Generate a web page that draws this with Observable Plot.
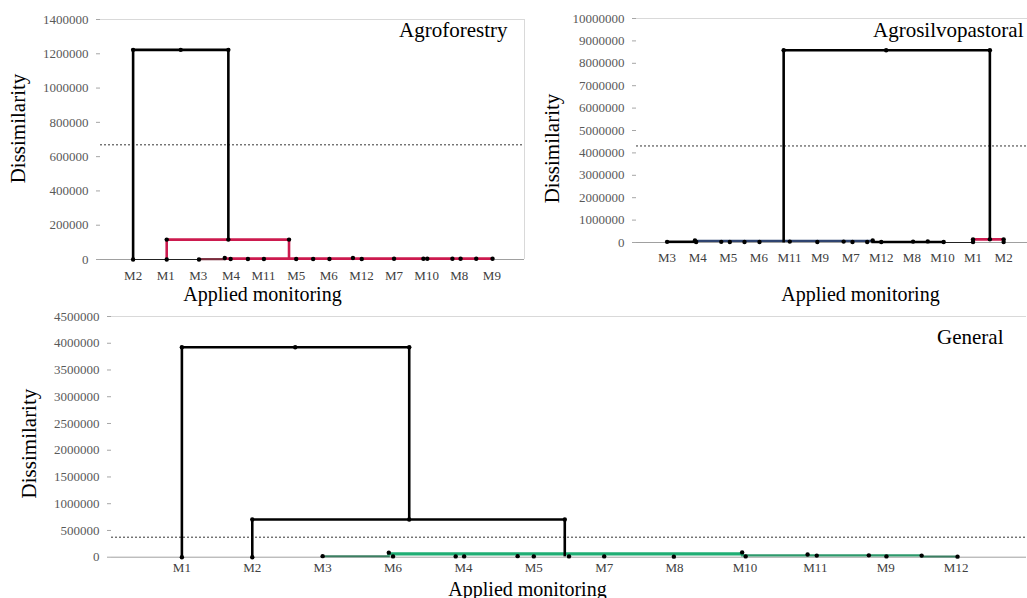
<!DOCTYPE html>
<html>
<head>
<meta charset="utf-8">
<script src="https://cdn.jsdelivr.net/npm/d3@7"></script>
<script src="https://cdn.jsdelivr.net/npm/@observablehq/plot@0.6"></script>
<style>
  body { margin: 0; background: #fff; }
  #chart { position: relative; width: 1027px; height: 598px; overflow: hidden; }
  #chart > svg { position: absolute; overflow: visible; }
</style>
</head>
<body>
<div id="chart"></div>
<script>
// ---------- Agroforestry ----------
const agroCategories = ["M2", "M1", "M3", "M4", "M11", "M5", "M6", "M12", "M7", "M10", "M8", "M9"];
const agroTicks = [0, 200000, 400000, 600000, 800000, 1000000, 1200000, 1400000];
const agroCutoff = 669000;
// [x1, height1, x2, height2, cluster] — x in leaf-order units
const agroLinks = [
  [1, 0, 1, 1223000, "outer"],
  [1, 1223000, 3.92, 1223000, "outer"],
  [3.92, 1223000, 3.92, 116000, "outer"],
  [1, 0, 3.02, 0, "base"],
  [2.03, 0, 2.03, 116000, "c1"],
  [2.03, 116000, 5.78, 116000, "c1"],
  [5.78, 116000, 5.78, 5000, "c1"],
  [3.02, 2000, 3.81, 2000, "c2"],
  [3.81, 5000, 12.02, 5000, "c1"]
];
const agroNodes = [
  [1, 0], [1, 1223000], [2.46, 1223000], [3.92, 1223000], [3.92, 116000],
  [2.03, 116000], [2.03, 0], [5.78, 116000], [3.02, 0], [3.81, 9000],
  [3.99, 3000], [4.52, 3000], [5.01, 3000], [6.0, 3000], [6.52, 3000],
  [7.02, 3000], [7.74, 9000], [8.01, 3000], [9.0, 4000], [9.9, 4000],
  [10.02, 4000], [10.79, 4000], [11.04, 4000], [11.52, 4000], [12.02, 4000]
];

// ---------- Agrosilvopastoral ----------
const silvoCategories = ["M3", "M4", "M5", "M6", "M11", "M9", "M7", "M12", "M8", "M10", "M1", "M2"];
const silvoTicks = [0, 1000000, 2000000, 3000000, 4000000, 5000000, 6000000, 7000000, 8000000, 9000000, 10000000];
const silvoCutoff = 4310000;
const silvoLinks = [
  [4.81, 60000, 4.81, 8580000, "outer"],
  [4.81, 8580000, 11.55, 8580000, "outer"],
  [11.55, 8580000, 11.55, 140000, "outer"],
  [1, 30000, 1.91, 30000, "outer"],
  [1.91, 70000, 7.72, 70000, "c2"],
  [7.72, 25000, 10.04, 25000, "outer"],
  [10.04, 0, 11, 0, "base"],
  [11, 140000, 12, 140000, "c1"],
  [11, 20000, 11, 140000, "c1"],
  [12, 20000, 12, 140000, "c1"]
];
const silvoNodes = [
  [4.81, 8580000], [8.16, 8580000], [11.55, 8580000],
  [1.0, 30000], [1.91, 90000], [1.95, 20000], [2.77, 30000], [3.05, 20000],
  [3.53, 20000], [4.02, 20000], [5.01, 40000], [5.91, 20000], [6.77, 40000],
  [7.06, 20000], [7.54, 20000], [7.72, 90000], [8.0, 20000], [9.04, 40000],
  [9.52, 50000], [10.04, 20000], [11, 140000], [11.55, 140000], [12, 140000],
  [11, 20000], [12, 20000]
];

// ---------- General ----------
const genCategories = ["M1", "M2", "M3", "M6", "M4", "M5", "M7", "M8", "M10", "M11", "M9", "M12"];
const genTicks = [0, 500000, 1000000, 1500000, 2000000, 2500000, 3000000, 3500000, 4000000, 4500000];
const genCutoff = 374000;
const genLinks = [
  [1, 0, 1, 3926000, "outer"],
  [1, 3926000, 4.23, 3926000, "outer"],
  [4.23, 3926000, 4.23, 705000, "outer"],
  [2, 0, 2, 705000, "outer"],
  [2, 705000, 6.44, 705000, "outer"],
  [6.44, 705000, 6.44, 40000, "outer"],
  [3.0, 20000, 3.94, 20000, "c3"],
  [3.94, 62000, 8.96, 62000, "c1"],
  [8.96, 35000, 11.51, 35000, "c2"],
  [11.51, 15000, 12.02, 15000, "c3"]
];
const genNodes = [
  [1, 0], [1, 3926000], [2.61, 3926000], [4.23, 3926000], [4.23, 705000],
  [2, 705000], [2, 0], [6.44, 705000], [6.5, 15000],
  [3.0, 20000], [3.94, 85000], [4.0, 15000], [4.89, 15000], [5.01, 15000],
  [5.77, 20000], [6.0, 15000], [7.0, 15000], [7.99, 10000], [8.96, 90000],
  [9.01, 15000], [9.89, 50000], [10.02, 30000], [10.76, 35000], [11.01, 15000],
  [11.51, 30000], [12.02, 10000]
];

const serif = '"Liberation Serif", "DejaVu Serif", serif';
const fmt = d3.format("d");

function dendrogram(opts) {
  const {
    categories, links, nodes, cutoff, yTicks, styles,
    left, top, width, height, margin, xMax, xPad, border,
    yLabel, xLabel, name
  } = opts;
  const yMax = yTicks[yTicks.length - 1];
  const clusterMarks = Object.keys(styles).map(k =>
    Plot.link(links.filter(l => l[4] === k), {
      x1: d => d[0], y1: d => d[1], x2: d => d[2], y2: d => d[3],
      stroke: styles[k].stroke, strokeWidth: styles[k].width,
      strokeLinecap: "square"
    })
  );
  const svg = Plot.plot({
    width, height,
    marginLeft: margin[0], marginRight: margin[1], marginTop: margin[2], marginBottom: margin[3],
    style: { fontFamily: serif, background: "transparent", overflow: "visible" },
    x: { domain: [0, xMax], axis: null },
    y: { domain: [0, yMax], axis: null },
    marks: [
      Plot.ruleY([yMax], { stroke: "#d9d9d9", strokeWidth: 1 }),
      border ? Plot.ruleX([xMax], { stroke: "#d9d9d9", strokeWidth: 1 }) : null,
      Plot.ruleY([0], { stroke: "#a0a0a0", strokeWidth: 1 }),
      Plot.axisY({
        ticks: yTicks, tickFormat: fmt, tickSize: 4, tickPadding: 8,
        stroke: "#a6a6a6", fill: "#595959", fontSize: 13, label: null
      }),
      Plot.axisX({
        ticks: d3.range(1, categories.length + 1), tickFormat: i => categories[i - 1],
        tickSize: 0, tickPadding: xPad, fill: "#404040", fontSize: 13, label: null
      }),
      Plot.ruleY([cutoff], { stroke: "#000", strokeWidth: 0.8, strokeDasharray: "2,2" }),
      ...clusterMarks,
      Plot.dot(nodes, { x: d => d[0], y: d => d[1], r: 2.2, fill: "#000", stroke: "none" }),
      Plot.text([yLabel.text], {
        frameAnchor: "left", dx: yLabel.dx, dy: yLabel.dy, rotate: -90,
        fontSize: 21, fill: "#000", textAnchor: "middle"
      }),
      Plot.text([xLabel.text], {
        frameAnchor: "bottom", dx: xLabel.dx, dy: xLabel.dy, lineAnchor: "bottom",
        fontSize: 20, fill: "#000", textAnchor: "middle"
      }),
      Plot.text([name.text], {
        frameAnchor: "top-right", dx: name.dx, dy: name.dy, lineAnchor: "bottom",
        fontSize: 21, fill: "#000", textAnchor: "end"
      })
    ]
  });
  svg.style.left = left + "px";
  svg.style.top = top + "px";
  return svg;
}

const chart = document.getElementById("chart");

chart.append(dendrogram({
  categories: agroCategories, links: agroLinks, nodes: agroNodes,
  cutoff: agroCutoff, yTicks: agroTicks,
  styles: {
    base: { stroke: "#222", width: 1 },
    c2: { stroke: "#7a2b3c", width: 2.2 },
    c1: { stroke: "#cc1a4e", width: 2.6 },
    outer: { stroke: "#000", width: 2.6 }
  },
  left: 0, top: 0, width: 530, height: 310, margin: [100, 6, 19, 51],
  xMax: 13, xPad: 11.3, border: true,
  yLabel: { text: "Dissimilarity", dx: -82, dy: -11 },
  xLabel: { text: "Applied monitoring", dx: -50, dy: 41 },
  name: { text: "Agroforestry", dx: -17, dy: 17.7 }
}));

chart.append(dendrogram({
  categories: silvoCategories, links: silvoLinks, nodes: silvoNodes,
  cutoff: silvoCutoff, yTicks: silvoTicks,
  styles: {
    base: { stroke: "#222", width: 1 },
    c2: { stroke: "#2f4470", width: 2.2 },
    c1: { stroke: "#cc1a4e", width: 2.6 },
    outer: { stroke: "#000", width: 2.6 }
  },
  left: 520, top: 0, width: 507, height: 310, margin: [116, 0, 18, 68],
  xMax: 12.78, xPad: 9.8, border: false,
  yLabel: { text: "Dissimilarity", dx: -84, dy: 18 },
  xLabel: { text: "Applied monitoring", dx: 28.5, dy: 58 },
  name: { text: "Agrosilvopastoral", dx: -4, dy: 18.7 }
}));

chart.append(dendrogram({
  categories: genCategories, links: genLinks, nodes: genNodes,
  cutoff: genCutoff, yTicks: genTicks,
  styles: {
    c3: { stroke: "#3b7f62", width: 2 },
    c2: { stroke: "#2e9a6c", width: 2.4 },
    c1: { stroke: "#1fae74", width: 3.2 },
    outer: { stroke: "#000", width: 2.6 }
  },
  left: 0, top: 290, width: 1027, height: 308, margin: [111, 1, 26, 41.3],
  xMax: 13, xPad: 5.1, border: false,
  yLabel: { text: "Dissimilarity", dx: -82, dy: 6.7 },
  xLabel: { text: "Applied monitoring", dx: -41.5, dy: 38.3 },
  name: { text: "General", dx: -23, dy: 27.3 }
}));
</script>
</body>
</html>
